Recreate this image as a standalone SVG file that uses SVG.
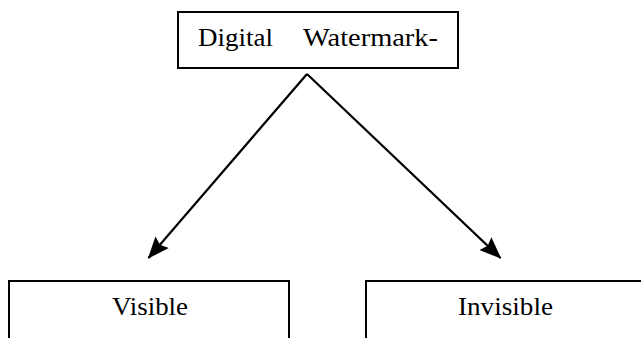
<svg xmlns="http://www.w3.org/2000/svg" width="641" height="338" viewBox="0 0 641 338">
<style>
.box{fill:#fff;stroke:#000;stroke-width:2}
.lbl{font-family:"Liberation Serif","Times New Roman",serif;font-size:26px;fill:#000}
.conn{stroke:#000;stroke-width:2.2;fill:none}
</style>
<defs>
<marker id="ah" markerUnits="userSpaceOnUse" markerWidth="22" markerHeight="18" refX="19" refY="8" orient="auto" viewBox="0 0 20 16">
<polygon points="0,0 20,8 0,16 3,8" fill="#000"/>
</marker>
</defs>
<rect width="641" height="338" fill="#fff"/>
<g id="connectors">
<path class="conn" d="M307,74 L148.5,258" marker-end="url(#ah)"/>
<path class="conn" d="M307,74 L500.5,258" marker-end="url(#ah)"/>
</g>
<g id="node-digital-watermark">
<rect class="box" x="178" y="12" width="280" height="56"/>
<text class="lbl" x="198" y="46" textLength="75" lengthAdjust="spacingAndGlyphs">Digital</text>
<text class="lbl" x="303" y="46" textLength="135" lengthAdjust="spacingAndGlyphs">Watermark-</text>
</g>
<g id="node-visible">
<rect class="box" x="9" y="281" width="280" height="70"/>
<text class="lbl" x="112" y="315" textLength="76" lengthAdjust="spacingAndGlyphs">Visible</text>
</g>
<g id="node-invisible">
<rect class="box" x="366" y="281" width="290" height="70"/>
<text class="lbl" x="458" y="315" textLength="95" lengthAdjust="spacingAndGlyphs">Invisible</text>
</g>
</svg>
